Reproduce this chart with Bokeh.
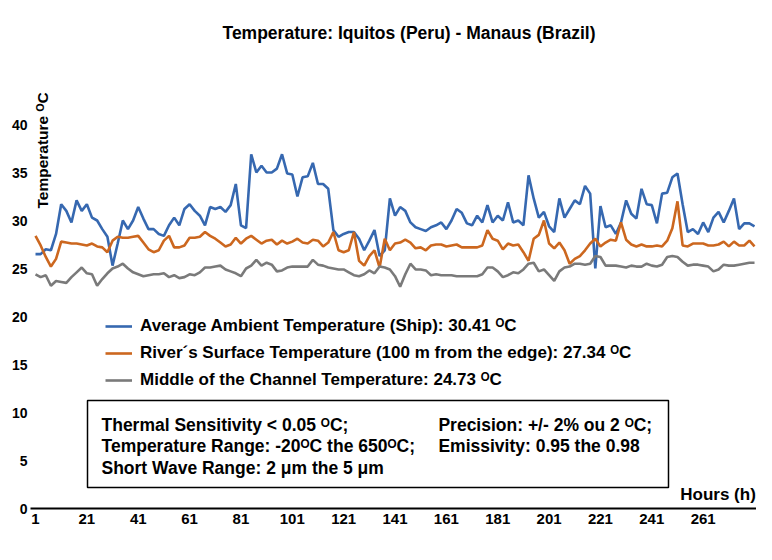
from math import pi
from bokeh.plotting import figure
from bokeh.models import Range1d, FixedTicker, Label, BoxAnnotation, Legend, LegendItem
from bokeh.embed import file_html
from bokeh.resources import INLINE

# ---------------- data ----------------
hours = list(range(1, 282, 2))

ambient = [
    26.5, 26.5, 27.0, 26.9, 28.6, 31.7, 31.0, 29.8, 32.1, 31.0,
    31.7, 30.3, 30.0, 29.1, 28.3, 25.3, 27.6, 30.0, 29.1, 30.0,
    31.4, 30.2, 29.1, 29.1, 28.6, 28.4, 29.5, 30.3, 29.5, 31.2,
    31.7, 31.0, 30.5, 29.5, 31.4, 31.2, 31.4, 30.9, 31.6, 33.8,
    29.5, 29.2, 36.9, 35.0, 35.7, 35.0, 35.0, 35.4, 36.9, 34.9,
    34.8, 32.5, 34.5, 34.6, 36.0, 33.8, 33.8, 33.3, 29.0, 28.3,
    28.6, 28.8, 28.8, 28.1, 26.9, 27.9, 29.0, 26.3, 26.9, 32.3,
    30.5, 31.4, 31.0, 29.8, 29.3, 29.1, 28.9, 29.3, 29.5, 29.8,
    29.1, 30.0, 31.2, 30.8, 29.7, 29.5, 30.5, 29.8, 31.6, 29.8,
    30.5, 30.0, 31.9, 29.8, 30.0, 29.5, 34.7, 32.3, 30.3, 30.9,
    29.4, 28.8, 32.3, 30.3, 31.2, 32.1, 31.7, 33.6, 32.8, 25.0,
    31.5, 29.3, 29.5, 28.6, 29.8, 32.1, 30.7, 30.2, 33.3, 31.7,
    31.6, 29.7, 32.8, 32.9, 34.5, 34.9, 31.7, 28.8, 29.1, 28.6,
    29.8, 28.8, 30.3, 30.9, 29.8, 31.0, 32.3, 29.1, 29.7, 29.7,
    29.4,
]

surface = [
    28.4, 27.4, 26.2, 25.2, 26.0, 27.8, 27.7, 27.6, 27.6, 27.5,
    27.4, 27.6, 27.3, 27.2, 26.7, 27.9, 28.3, 28.2, 28.2, 28.3,
    28.4, 27.7, 27.0, 26.7, 26.9, 27.9, 28.4, 27.2, 27.2, 27.4,
    28.2, 28.2, 28.3, 28.8, 28.4, 28.1, 27.7, 27.3, 27.5, 28.2,
    27.6, 28.1, 28.4, 28.0, 27.6, 27.9, 28.0, 27.5, 27.9, 27.6,
    27.8, 28.1, 27.7, 27.6, 28.0, 27.9, 27.3, 27.7, 28.8, 26.9,
    26.7, 26.9, 28.8, 25.8, 25.3, 26.3, 26.9, 25.1, 28.1, 26.9,
    27.6, 27.7, 28.0, 27.7, 27.1, 27.2, 26.9, 27.4, 27.5, 27.5,
    27.3, 27.4, 27.5, 27.2, 27.2, 27.2, 27.2, 27.4, 29.0, 28.1,
    27.9, 27.0, 27.6, 27.4, 27.5, 26.7, 25.8, 28.1, 28.5, 30.0,
    27.6, 27.1, 27.7, 26.9, 25.5, 26.0, 26.3, 26.9, 27.6, 28.1,
    27.3, 27.7, 28.0, 27.9, 29.8, 28.0, 27.5, 27.3, 27.5, 27.3,
    27.3, 27.4, 27.3, 27.9, 29.2, 32.0, 27.4, 27.3, 27.6, 27.6,
    27.6, 27.4, 27.4, 27.5, 27.8, 27.3, 27.8, 27.4, 27.4, 27.9,
    27.3,
]

channel = [
    24.4, 24.1, 24.3, 23.2, 23.7, 23.6, 23.5, 24.1, 24.6, 25.1,
    24.5, 24.4, 23.2, 23.9, 24.5, 25.0, 25.2, 25.5, 25.0, 24.6,
    24.4, 24.2, 24.3, 24.4, 24.4, 24.5, 24.1, 24.3, 24.0, 24.1,
    24.4, 24.3, 24.6, 25.1, 25.1, 25.2, 25.3, 24.9, 24.7, 24.5,
    24.2, 25.0, 25.3, 25.9, 25.3, 25.6, 25.4, 24.7, 24.8, 25.1,
    25.2, 25.2, 25.2, 25.2, 25.9, 25.4, 25.3, 25.1, 25.0, 24.9,
    24.9, 24.6, 24.3, 24.2, 24.4, 24.8, 24.5, 25.2, 25.1, 24.9,
    24.2, 23.1, 24.4, 25.5, 24.9, 24.9, 24.8, 24.3, 24.4, 24.3,
    24.3, 24.3, 24.2, 24.2, 24.2, 24.2, 24.2, 24.4, 25.1, 25.1,
    24.7, 24.1, 24.3, 24.6, 24.5, 24.9, 25.5, 25.6, 24.7, 24.9,
    24.3, 23.7, 24.7, 25.1, 25.2, 25.5, 25.5, 25.4, 25.5, 26.3,
    26.2, 25.3, 25.3, 25.3, 25.2, 25.1, 25.3, 25.2, 25.2, 25.5,
    25.3, 25.2, 25.4, 26.2, 26.3, 26.2, 25.7, 25.3, 25.4, 25.4,
    25.3, 25.2, 24.7, 24.9, 25.4, 25.3, 25.3, 25.4, 25.5, 25.6,
    25.6,
]

x_ticks = [1, 21, 41, 61, 81, 101, 121, 141, 161, 181, 201, 221, 241, 261]
y_ticks = [0, 5, 10, 15, 20, 25, 30, 35, 40]

series_names = [
    "Average Ambient Temperature (Ship): 30.41 \u1d3cC",
    "River\u00b4s Surface Temperature (100 m from the edge): 27.34 \u1d3cC",
    "Middle of the Channel Temperature: 24.73 \u1d3cC",
]
series_colors = ["#3668B0", "#CC671F", "#7A7A7A"]

title_text = "Temperature: Iquitos (Peru) - Manaus (Brazil)"
y_title = "Temperature \u1d3cC"
x_title = "Hours (h)"
info_left = [
    "Thermal Sensitivity < 0.05 \u1d3cC;",
    "Temperature Range: -20\u1d3cC the 650\u1d3cC;",
    " Short Wave Range: 2 \u03bcm the 5 \u03bcm",
]
info_right = [
    "Precision: +/- 2% ou 2 \u1d3cC;",
    "Emissivity: 0.95 the 0.98",
]

FONT = "Liberation Sans"

# ---------------- figure ----------------
p = figure(width=756, height=544, output_backend="svg", toolbar_location=None,
           x_range=Range1d(-0.95, 281.77), y_range=Range1d(0, 46.875),
           min_border_left=30, min_border_right=0, min_border_top=58,
           min_border_bottom=36)
p.outline_line_color = None
p.grid.visible = False
p.background_fill_color = "white"

p.title.text = title_text
p.title.align = "left"
p.title.offset = 192
p.title.standoff = 32
p.title.text_font = FONT
p.title.text_font_size = "17.5px"
p.title.text_font_style = "bold"
p.title.text_color = "black"

xa = p.xaxis[0]
xa.ticker = FixedTicker(ticks=x_ticks)
xa.axis_line_color = "black"
xa.axis_line_width = 2
xa.major_tick_line_color = None
xa.minor_tick_line_color = None
xa.major_tick_out = 0
xa.major_label_standoff = 5
xa.major_label_text_font = FONT
xa.major_label_text_font_size = "15px"
xa.major_label_text_font_style = "bold"
xa.major_label_text_color = "black"

ya = p.yaxis[0]
ya.ticker = FixedTicker(ticks=y_ticks)
ya.axis_line_color = None
ya.major_tick_line_color = None
ya.minor_tick_line_color = None
ya.major_tick_out = 0
ya.major_label_standoff = 3
ya.major_label_text_font = FONT
ya.major_label_text_font_size = "14px"
ya.major_label_text_font_style = "bold"
ya.major_label_text_color = "black"

renderers = []
for vals, col in zip([ambient, surface, channel], series_colors):
    r = p.line(hours, vals, line_color=col, line_width=2.6)
    renderers.append(r)

legend = Legend(items=[LegendItem(label=n, renderers=[r]) for n, r in zip(series_names, renderers)],
                location=(75, 118), border_line_color=None, background_fill_alpha=0,
                label_text_font=FONT, label_text_font_size="17px", label_text_font_style="bold",
                label_text_color="black", glyph_width=27, glyph_height=20, label_height=20,
                spacing=7, padding=0, margin=0, label_standoff=8)
p.add_layout(legend)

# info box
p.add_layout(BoxAnnotation(left=21.25, right=247.5, bottom=2.19, top=11.25,
                           fill_alpha=0, line_color="black", line_alpha=1.0, line_width=1.5))
for txt, yy in zip(info_left, [8.75, 6.46, 4.27]):
    p.add_layout(Label(x=26.7, y=yy, text=txt, text_font=FONT, text_font_size="17.5px",
                       text_font_style="bold", text_baseline="middle", text_color="black"))
for txt, yy in zip(info_right, [8.75, 6.46]):
    p.add_layout(Label(x=157.9, y=yy, text=txt, text_font=FONT, text_font_size="17.5px",
                       text_font_style="bold", text_baseline="middle", text_color="black"))

# axis titles
p.add_layout(Label(x=281.5, y=1.46, text=x_title, text_align="right", text_baseline="middle",
                   text_font=FONT, text_font_size="17px", text_font_style="bold", text_color="black"))
p.add_layout(Label(x=3.73, y=31.25, text=y_title, angle=pi / 2, text_align="left",
                   text_baseline="middle", text_font=FONT, text_font_size="15.5px",
                   text_font_style="bold", text_color="black"))

open("out.html", "w").write(file_html(p, INLINE))
